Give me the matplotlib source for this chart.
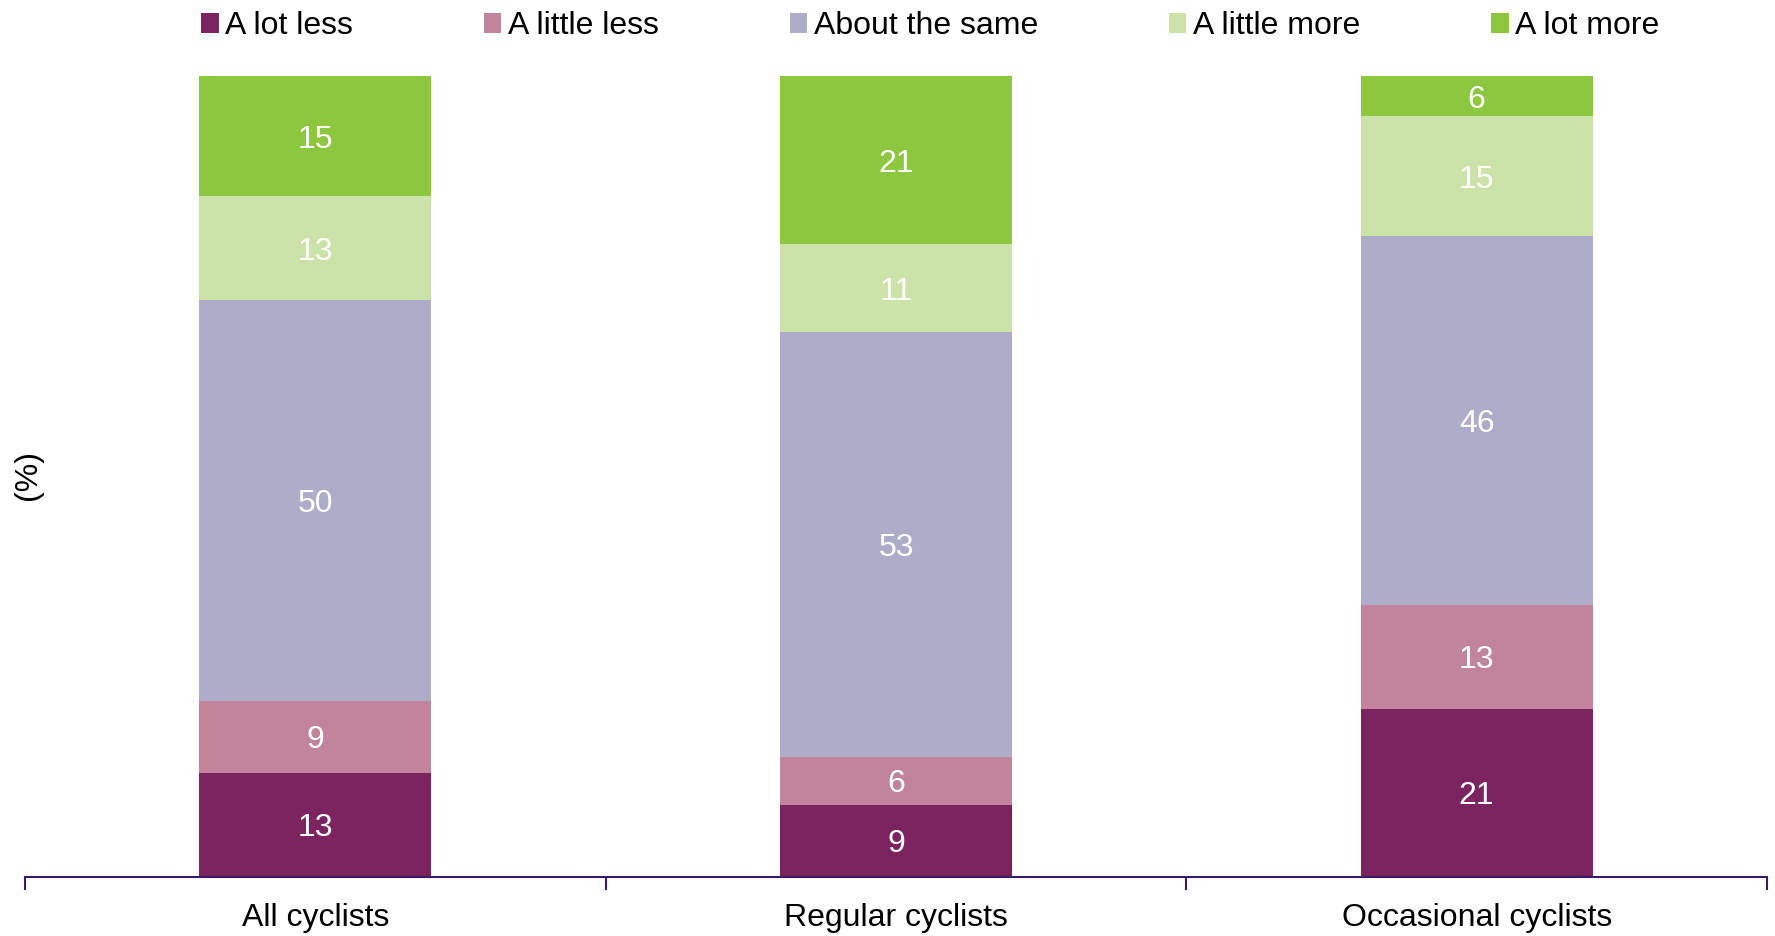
import matplotlib
matplotlib.use("Agg")
import matplotlib.pyplot as plt
import matplotlib.transforms as mtransforms
import numpy as np

plt.rcParams['font.family'] = ['Liberation Sans', 'DejaVu Sans']

categories = ["All cyclists", "Regular cyclists", "Occasional cyclists"]
series_names = ["A lot less", "A little less", "About the same", "A little more", "A lot more"]
a_lot_less = [13, 9, 21]
a_little_less = [9, 6, 13]
about_same = [50, 53, 46]
a_little_more = [13, 11, 15]
a_lot_more = [15, 21, 6]
colors = ["#7B2460", "#C2849C", "#AFACCA", "#CBE3A8", "#8DC63F"]

series = [a_lot_less, a_little_less, about_same, a_little_more, a_lot_more]

fig = plt.figure(figsize=(17.75, 9.36), dpi=100)
ax = fig.add_axes([0.0141, 0.063, 0.9814, 0.8558])

# value labels sit a few pixels below the geometric centre of each segment
label_tf = mtransforms.offset_copy(ax.transData, fig=fig, x=0, y=-3.5, units="dots")

x = np.arange(len(categories))
bottom = np.zeros(len(categories))
handles = []
for name, vals, col in zip(series_names, series, colors):
    vals = np.array(vals, dtype=float)
    bars = ax.bar(x, vals, width=0.4, bottom=bottom, color=col, label=name, linewidth=0)
    handles.append(bars)
    for xi, b, v in zip(x, bottom, vals):
        top = min(b + v, 100)
        ax.text(xi, (b + top) / 2, f"{int(v)}", ha="center", va="center",
                color="white", fontsize=23, transform=label_tf)
    bottom += vals

ax.set_xlim(-0.5, len(categories) - 0.5)
ax.set_ylim(0, 100)

for side in ["left", "right", "top"]:
    ax.spines[side].set_visible(False)
ax.spines["bottom"].set_color("#3A1A6B")
ax.spines["bottom"].set_linewidth(1.5)
ax.set_yticks([])

ax.set_xticks(x)
ax.set_xticklabels(categories, fontsize=23)
ax.tick_params(axis="x", which="major", length=0, pad=19)
ax.set_xticks(np.arange(-0.5, len(categories)), minor=True)
ax.tick_params(axis="x", which="minor", length=9, width=1.5, color="#3A1A6B", direction="out")

fig.text(28 / 1775, 1 - 475 / 936, "(%)", rotation=90, ha="center", va="center", fontsize=23)

fig.legend(handles=handles, labels=series_names, loc="center", ncol=5,
           bbox_to_anchor=(0.524, 0.972), frameon=False, fontsize=23,
           handlelength=0.55, handleheight=0.55, handletextpad=0.2,
           columnspacing=4.1, borderaxespad=0)

fig.savefig("out.png", dpi=100)
